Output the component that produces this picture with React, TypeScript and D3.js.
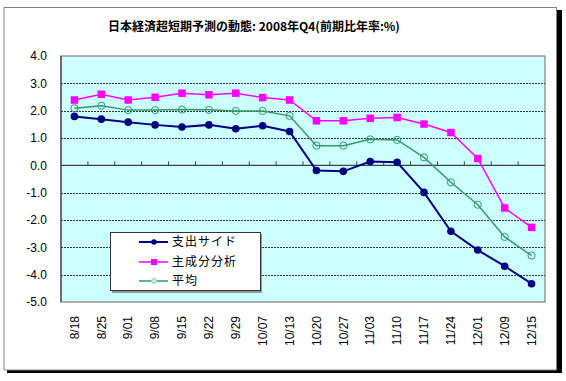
import React from "react";
import * as d3 from "d3";

const categories = ["8/18","8/25","9/01","9/08","9/15","9/22","9/29","10/07","10/13","10/20","10/27","11/03","11/10","11/17","11/24","12/01","12/09","12/15"];
const expenditure = [1.79,1.69,1.58,1.48,1.40,1.48,1.34,1.45,1.24,-0.19,-0.22,0.14,0.11,-0.99,-2.41,-3.10,-3.69,-4.33];
const principal = [2.39,2.60,2.39,2.49,2.64,2.58,2.64,2.48,2.39,1.63,1.63,1.72,1.75,1.51,1.20,0.25,-1.56,-2.27];
const average = [2.09,2.18,2.02,2.02,2.04,2.03,1.99,1.99,1.81,0.72,0.72,0.95,0.93,0.29,-0.62,-1.44,-2.62,-3.30];
const yTicks = [4,3,2,1,0,-1,-2,-3,-4,-5];
const seriesNames = ["支出サイド","主成分分析","平均"];
const title = "日本経済超短期予測の動態: 2008年Q4(前期比年率:%)";

const W = 566, H = 381;
const L = 61, R = 545, T = 56, B = 302;

export default function App() {
  const x = d3.scaleBand<string>().domain(categories).range([L, R]);
  const y = d3.scaleLinear().domain([-5, 4]).range([B, T]);
  const cx = (c: string) => (x(c) as number) + x.bandwidth() / 2;
  const line = d3.line<number>().x((_, i) => cx(categories[i])).y(d => y(d));
  const font = "Arial, 'Liberation Sans', 'Noto Sans CJK JP', sans-serif";
  const cjk = "'Noto Sans CJK JP', sans-serif";
  const navy = "#000080", mag = "#FF00FF", green = "#339966";
  const sq = 7.5;
  return (
    <svg width={W} height={H} style={{ position: "absolute", left: 0, top: 0 }}>
      <rect x={0} y={0} width={W} height={H} fill="#fff" />
      {/* frame shadow */}
      <rect x={7} y={10} width={555} height={363} fill="#000" />
      <rect x={4} y={7.5} width={552.5} height={362.5} fill="#fff" stroke="#808080" strokeWidth={1} />
      <text x={254} y={31} textAnchor="middle" fontSize={12} fontFamily={cjk} fill="#000" fontWeight="bold">{title}</text>
      {/* plot area */}
      <rect x={L} y={T} width={R - L} height={B - T} fill="#CCFFFF" stroke="#808080" strokeWidth={1.2} />
      {yTicks.filter(t => t !== 4 && t !== -5 && t !== 0).map(t => (
        <line key={t} x1={L} x2={R} y1={Math.round(y(t)) + 0.5} y2={Math.round(y(t)) + 0.5} stroke="#333" strokeWidth={1} strokeDasharray="2,1" />
      ))}
      <line x1={L} x2={L} y1={T} y2={B} stroke="#404040" strokeWidth={1.2} />
      <line x1={L} x2={R} y1={y(0)} y2={y(0)} stroke="#404040" strokeWidth={1.2} />
      {categories.slice(1).map(c => (
        <line key={c} x1={x(c)} x2={x(c)} y1={y(0) - 4} y2={y(0)} stroke="#404040" strokeWidth={1} />
      ))}
      {yTicks.map(t => (
        <text key={t} x={47} y={y(t)} dy="0.35em" textAnchor="end" fontSize={12} fontFamily={font} fill="#000">{t.toFixed(1)}</text>
      ))}
      {categories.map(c => (
        <text key={c} transform={`translate(${cx(c)},316) rotate(-90)`} textAnchor="end" dy="0.35em" fontSize={12} fontFamily={font} fill="#000">{c}</text>
      ))}
      {/* series */}
      <path d={line(principal) || ""} fill="none" stroke={mag} strokeWidth={1.5} />
      <path d={line(average) || ""} fill="none" stroke={green} strokeWidth={1.5} />
      <path d={line(expenditure) || ""} fill="none" stroke={navy} strokeWidth={2} />
      {principal.map((v, i) => (
        <rect key={i} x={cx(categories[i]) - sq / 2} y={y(v) - sq / 2} width={sq} height={sq} fill={mag} />
      ))}
      {average.map((v, i) => (
        <circle key={i} cx={cx(categories[i])} cy={y(v)} r={3.6} fill="none" stroke={green} strokeWidth={1} />
      ))}
      {expenditure.map((v, i) => (
        <circle key={i} cx={cx(categories[i])} cy={y(v)} r={3.8} fill={navy} />
      ))}
      {/* legend */}
      <rect x={112} y={234} width={150} height={59} fill="#999" />
      <rect x={110.5} y={232.5} width={150} height={58} fill="#fff" stroke="#333" strokeWidth={1} />
      {seriesNames.map((n, i) => {
        const ly = [242, 262, 281][i];
        const col = [navy, mag, green][i];
        return (
          <g key={n}>
            <line x1={139} x2={168} y1={ly} y2={ly} stroke={col} strokeWidth={i === 0 ? 2 : 1.5} />
            {i === 0 && <circle cx={154} cy={ly} r={2.8} fill={navy} />}
            {i === 1 && <rect x={151} y={ly - 3} width={6} height={6} fill={mag} />}
            {i === 2 && <circle cx={154} cy={ly} r={2.5} fill="#cde8dc" stroke="#9fd0b8" strokeWidth={1} />}
            <text x={172} y={ly} dy="0.36em" fontSize={12} fontFamily={cjk} letterSpacing={1} fill="#000">{n}</text>
          </g>
        );
      })}
    </svg>
  );
}
